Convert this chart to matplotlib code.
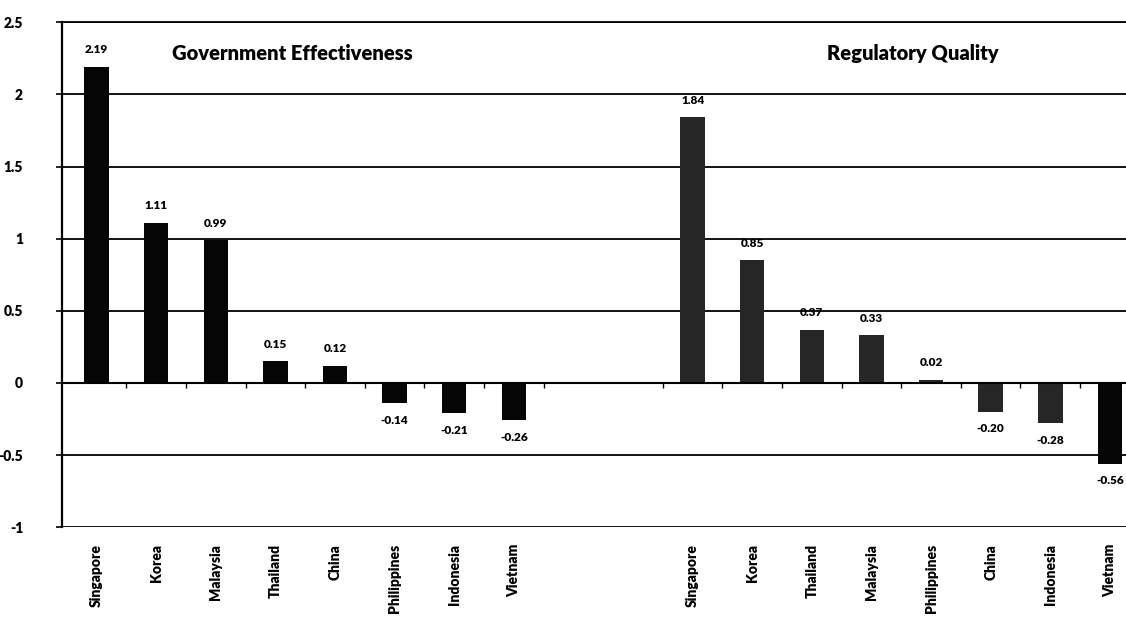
import matplotlib
matplotlib.use("Agg")
import matplotlib.pyplot as plt
from matplotlib.ticker import FuncFormatter, MultipleLocator
import numpy as np

plt.rcParams['font.family'] = ['Lato', 'DejaVu Sans']

# governance indicators, two panels on one category axis
ge_countries = ['Singapore', 'Korea', 'Malaysia', 'Thailand', 'China',
                'Philippines', 'Indonesia', 'Vietnam']
ge_values = [2.19, 1.11, 0.99, 0.15, 0.12, -0.14, -0.21, -0.26]
ge_labels = ['2.19', '1.11', '0.99', '0.15', '0.12', '-0.14', '-0.21', '-0.26']

rq_countries = ['Singapore', 'Korea', 'Thailand', 'Malaysia', 'Philippines',
                'China', 'Indonesia', 'Vietnam']
rq_values = [1.84, 0.85, 0.37, 0.33, 0.02, -0.20, -0.28, -0.56]
rq_labels = ['1.84', '0.85', '0.37', '0.33', '0.02', '-0.20', '-0.28', '-0.56']

gap = 2  # empty category slots between the two groups
ge_x = np.arange(len(ge_countries))
rq_x = np.arange(len(rq_countries)) + len(ge_countries) + gap

fig = plt.figure(figsize=(11.26, 6.18), dpi=100)
ax = fig.add_axes([0.055, 0.147, 0.945, 0.817])

bw = 0.41
ax.bar(ge_x, ge_values, width=bw, color='#050505', zorder=3)
rq_colors = ['#262626'] * (len(rq_values) - 1) + ['#050505']
ax.bar(rq_x, rq_values, width=bw, color=rq_colors, zorder=3)

# value labels
for xs, vals, labs in ((ge_x, ge_values, ge_labels), (rq_x, rq_values, rq_labels)):
    for x, v, s in zip(xs, vals, labs):
        if v >= 0:
            ax.text(x, v + 0.08, s, ha='center', va='bottom', fontsize=8.5,
                    fontweight='heavy')
        else:
            ax.text(x, v - 0.08, s, ha='center', va='top', fontsize=8.5,
                    fontweight='heavy')

ax.set_ylim(-1, 2.5)
ax.set_xlim(-0.58, rq_x[-1] + 0.27)
ax.yaxis.set_major_locator(MultipleLocator(0.5))
ax.yaxis.set_major_formatter(FuncFormatter(lambda v, p: f'{v:g}'))
ax.grid(axis='y', color='black', linewidth=1.3, zorder=1)
ax.axhline(0, color='black', linewidth=1.5, zorder=4)

# category tick marks on the zero line
bounds = np.concatenate([ge_x[1:] - 0.5, [ge_x[-1] + 0.5],
                         rq_x - 0.5, [rq_x[-1] + 0.5]])
ax.vlines(bounds, -0.035, 0, color='black', linewidth=1, zorder=4)

for side in ('right', 'bottom'):
    ax.spines[side].set_visible(False)
ax.spines['top'].set_linewidth(1.3)
ax.spines['left'].set_linewidth(1.6)
ax.tick_params(axis='y', length=4, width=1.2, labelsize=10, pad=24)
for t in ax.get_yticklabels():
    t.set_fontweight('heavy')

ax.set_xticks(np.concatenate([ge_x, rq_x]))
ax.set_xticklabels(ge_countries + rq_countries, rotation=90, fontsize=10,
                   fontweight='heavy', va='top')
ax.tick_params(axis='x', length=0, pad=12)

ax.text(ge_x[1] + 0.27, 2.28, 'Government Effectiveness', fontsize=14.5,
        fontweight='heavy', va='center')
ax.text(rq_x[2] + 0.25, 2.28, 'Regulatory Quality', fontsize=14.5,
        fontweight='heavy', va='center')

fig.savefig('out.png', dpi=100)
